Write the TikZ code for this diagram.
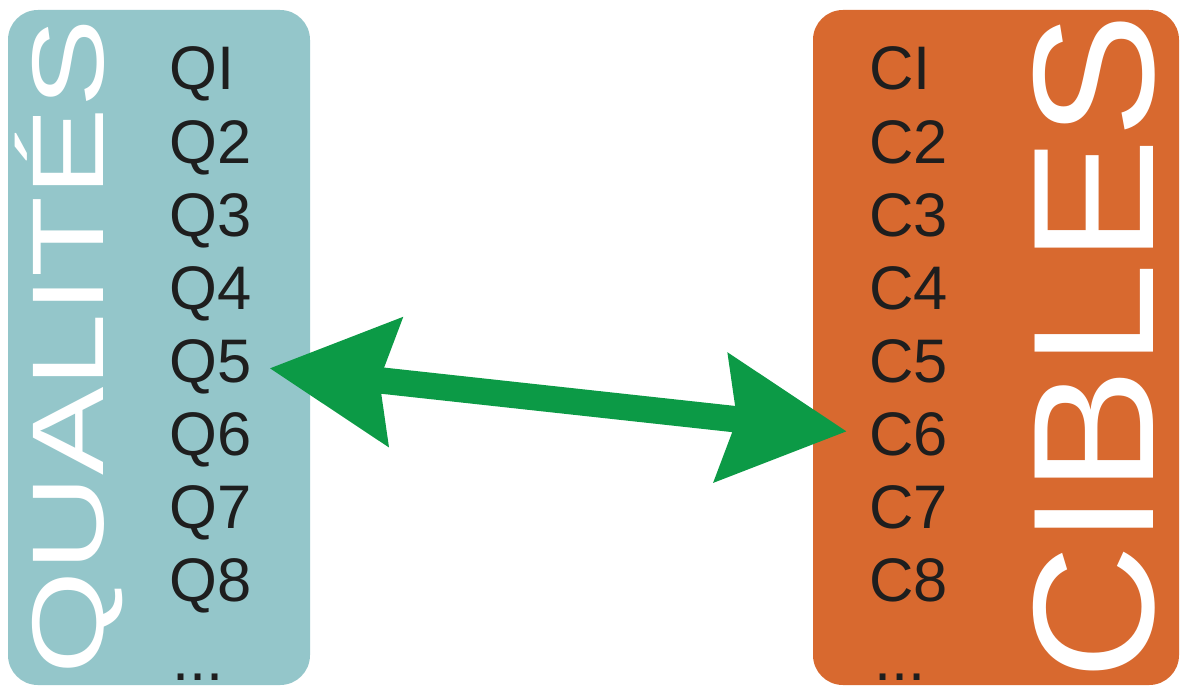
\documentclass[tikz,border=0pt]{standalone}
\usepackage{fontspec}
\setmainfont{Liberation Sans}
\usetikzlibrary{arrows.meta}
\definecolor{qualite}{HTML}{94C6CA}
\definecolor{cible}{HTML}{D8692F}
\definecolor{fleche}{HTML}{0C9A46}
\definecolor{encre}{HTML}{1E1E1E}

\begin{document}
\begin{tikzpicture}[x=0.02cm, y=-0.02cm,
    item/.style={font=\fontsize{35}{35}\selectfont, text=encre, inner sep=0pt, anchor=base west},
    titre/.style={text=white, inner sep=0pt, anchor=base, rotate=90}]
    % 背景と枠
    \useasboundingbox (0,0) rectangle (1180,686);
    \fill[white] (0,0) rectangle (1180,686);

    % 左右のパネル
    \fill[qualite, rounded corners=17pt] (8,10) rectangle (310,685);
    \fill[cible, rounded corners=17pt] (813,10) rectangle (1179,685);

    % 縦書きタイトル
    \node[titre, font=\fontsize{58}{58}\selectfont, xscale=1.3] (qualites) at (103,347) {QUALITÉS};
    \node[titre, font=\fontsize{98}{98}\selectfont, xscale=1.09] (cibles) at (1153,347) {CIBLES};

    % 項目リスト
    \foreach \n [count=\k] in {I,2,3,4,5,6,7,8} {
        \node[item] (q\k) at (169, {90+73*(\k-1)}) {Q\n};
        \node[item] (c\k) at (869, {90+73*(\k-1)}) {C\n};
    }
    \node[item] (qdots) at (172,680) {...};
    \node[item] (cdots) at (874,680) {...};

    % 双方向の矢印
    \draw[fleche, line width=15pt,
        {Stealth[length=71pt, width=71pt, inset=8pt]}-{Stealth[length=71pt, width=71pt, inset=8pt]},
        shorten <=10pt, shorten >=12.5pt] (q5.east) -- (c6.west);
\end{tikzpicture}
\end{document}
